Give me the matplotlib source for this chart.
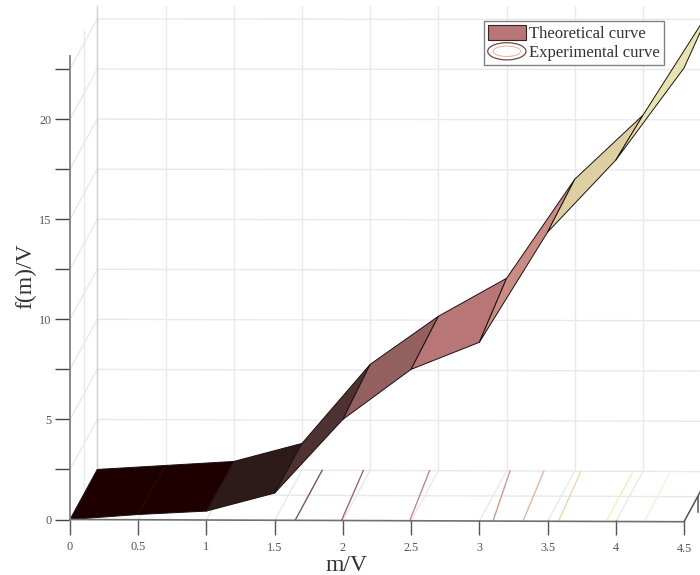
import matplotlib
matplotlib.use("Agg")
import matplotlib.pyplot as plt
from matplotlib.collections import PolyCollection
from matplotlib.legend_handler import HandlerBase
from matplotlib.patches import Ellipse, Patch

plt.rcParams['font.family'] = ['Liberation Serif', 'DejaVu Serif']

# Data
m = [0, 0.5, 1, 1.5, 2, 2.5, 3, 3.5, 4, 4.5]
experimental = [0, 0.25, 0.42, 1.32, 5.0, 7.5, 8.85, 14.35, 17.95, 22.55]
theoretical = [0, 0.2, 0.4, 1.3, 5.25, 7.65, 9.55, 14.5, 17.7, 23.05]
panel_colors = ['#1f0000', '#1f0000', '#2f1a1a', '#4e3232', '#935f5f',
                '#b97676', '#c98c84', '#decfa3', '#e8e4b2']
floor_front = [1.65, 1.99, 2.49, 3.10, 3.32, 3.58, 3.93, 4.21]
floor_back_shift = [0.198, 0.16, 0.145, 0.125, 0.153, 0.165, 0.198, 0.19]
floor_colors = ['#7d5555', '#9a6a6a', '#c08a8a', '#d09a92', '#e0b8a0',
                '#ecd8a8', '#f0edc0', '#f5f3d8']
x_ticks = [0, 0.5, 1, 1.5, 2, 2.5, 3, 3.5, 4, 4.5]
x_labels = ['0', '0.5', '1', '1.5', '2', '2.5', '3', '3.5', '4', '4.5']
y_ticks = [0, 2.5, 5, 7.5, 10, 12.5, 15, 17.5, 20, 22.5]
y_labels = ['0', '', '5', '', '10', '', '15', '', '20', '']
y_top = 23.15
DEPTH_X, DEPTH_Y = 0.2, 2.5


def tilt(x, y):
    """Slight perspective of the original view: lines sink a little to the right."""
    return y - 0.025 * x * (1 - y / 30)


def seg(ax, x0, y0, x1, y1, **kw):
    ax.plot([x0, x1], [tilt(x0, y0), tilt(x1, y1)], **kw)


W, H = 700, 575
fig = plt.figure(figsize=(W / 100, H / 100), dpi=100)
left, right, bottom, top = 70, 684, 519.5, 56
ax = fig.add_axes([left / W, 1 - bottom / H, (right - left) / W, (bottom - top) / H])
ax.set_xlim(0, 4.5)
ax.set_ylim(0, y_top)
ax.patch.set_alpha(0)

grid = dict(color='#e9e9e9', lw=1.0, clip_on=False, zorder=1)
for t in x_ticks:
    seg(ax, t + DEPTH_X, DEPTH_Y, t + DEPTH_X, DEPTH_Y + y_top, **grid)
    seg(ax, t, 0, t + DEPTH_X, DEPTH_Y, **grid)
seg(ax, DEPTH_X / 2, DEPTH_Y / 2, DEPTH_X / 2, DEPTH_Y / 2 + y_top, **grid)
for t in y_ticks:
    seg(ax, 0, t, DEPTH_X, t + DEPTH_Y, **grid)
    seg(ax, DEPTH_X, t + DEPTH_Y, 5, t + DEPTH_Y, **grid)
seg(ax, DEPTH_X / 2, DEPTH_Y / 2, 5, DEPTH_Y / 2, **grid)
seg(ax, DEPTH_X, DEPTH_Y, DEPTH_X, DEPTH_Y + y_top, color='#d2d2d2', lw=1.0, clip_on=False, zorder=1)

for f, s, c in zip(floor_front, floor_back_shift, floor_colors):
    seg(ax, f, 0, f + s, DEPTH_Y, color=c, lw=1.0, clip_on=False, zorder=2)

polys = []
for i in range(len(m) - 1):
    polys.append([(m[i], experimental[i]), (m[i + 1], experimental[i + 1]),
                  (m[i + 1] + DEPTH_X, theoretical[i + 1] + DEPTH_Y),
                  (m[i] + DEPTH_X, theoretical[i] + DEPTH_Y)])
ax.add_collection(PolyCollection(polys, facecolors=panel_colors, edgecolors='#1a1010',
                                 linewidths=0.7, clip_on=False, zorder=3))

# bottom axis line follows the same slight slope; depth axis stub at the right end
seg(ax, 0, 0, 4.5, 0, color='#707070', lw=1.2, clip_on=False, zorder=5)
seg(ax, 4.5, 0, 4.5 + DEPTH_X, DEPTH_Y, color='#555555', lw=1.1, clip_on=False, zorder=4)
seg(ax, 4.5 + DEPTH_X / 2, DEPTH_Y / 2, 4.5 + DEPTH_X / 2, DEPTH_Y / 2 - 0.75,
    color='#555555', lw=1.1, clip_on=False, zorder=4)

for s in ('top', 'right', 'bottom'):
    ax.spines[s].set_visible(False)
ax.spines['left'].set_color('#808080')
ax.spines['left'].set_linewidth(1.3)
ax.spines['left'].set_zorder(5)
ax.set_xticks(x_ticks, x_labels)
ax.set_yticks(y_ticks, y_labels)
ax.tick_params(axis='x', direction='out', length=10.5, width=1.0, color='#555555',
               labelcolor='#555555', labelsize=8.8, pad=5)
ax.tick_params(axis='y', direction='out', length=10.5, width=1.0, color='#444444',
               labelcolor='#555555', labelsize=8.8, pad=3)
for i, tick in enumerate(ax.xaxis.get_major_ticks()):
    tick.tick1line.set_markersize(10.5 + 0.22 * i)
    tick.set_pad(5 + 0.12 * i)
ax.set_xlabel('m/V', fontsize=17, color='#333333')
ax.set_ylabel('f(m)/V', fontsize=17, color='#333333')
ax.xaxis.set_label_coords((347 - left) / (right - left), (bottom - 555) / (bottom - top))
ax.yaxis.set_label_coords((36 - left) / (right - left), (bottom - 276) / (bottom - top))


class EllipseHandler(HandlerBase):
    def create_artists(self, legend, orig, xd, yd, w, h, fontsize, trans):
        outer = Ellipse((w / 2 - xd, h / 2 - yd), w, h * 1.15, fc='white', ec='#6b4a4a', lw=0.9, transform=trans)
        inner = Ellipse((w / 2 - xd, h / 2 - yd), w * 0.72, h * 0.7, fc='white', ec='#e8b8a0', lw=0.8, transform=trans)
        return [outer, inner]


theo = Patch(fc='#b97676', ec='#3a2020', lw=0.8)
expe = Patch(fc='white', ec='#6b4a4a')
leg = fig.legend([theo, expe], ['Theoretical curve', 'Experimental curve'],
                 handler_map={expe: EllipseHandler()}, loc='upper left',
                 bbox_to_anchor=(484 / W, 1 - 21 / H), bbox_transform=fig.transFigure,
                 fontsize=12, frameon=True, fancybox=False, framealpha=1, edgecolor='#808080',
                 borderaxespad=0, borderpad=0.22, labelspacing=0.12, handlelength=2.3,
                 handleheight=1.0, handletextpad=0.2, labelcolor='#333333')
leg.get_frame().set_linewidth(1.0)

fig.savefig('out.png', dpi=100, facecolor='white')
